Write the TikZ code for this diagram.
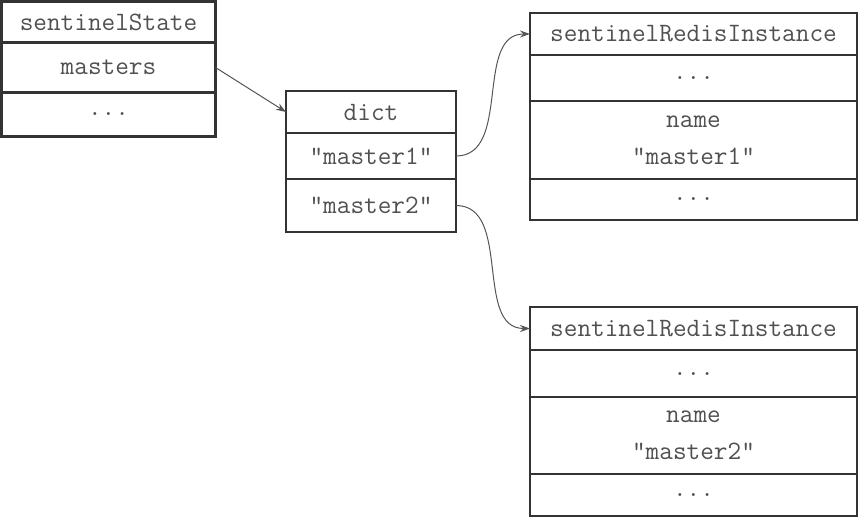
\documentclass[tikz,border=0pt]{standalone}
\usepackage{fontspec}
\usetikzlibrary{arrows.meta, positioning}

\definecolor{boxline}{HTML}{333333}
\definecolor{boxtext}{HTML}{505050}
\definecolor{linkline}{HTML}{555555}

\begin{document}
\begin{tikzpicture}[
  x=1pt, y=1pt,
  >={Stealth[length=10pt, width=7pt]},
  every node/.style={font=\ttfamily\fontsize{26.5}{30}\selectfont, text=boxtext},
  %% ── Cell styles ─────────────────────────────────────────────────────────
  cell/.style={
    draw=boxline, line width=2.8pt, outer sep=0pt, inner sep=0pt,
    align=center, anchor=north
  },
  stcell/.style={cell, minimum width=214pt},
  dictcell/.style={cell, minimum width=170pt},
  ricell/.style={cell, minimum width=327pt},
  %% ── Arrow styles ────────────────────────────────────────────────────────
  link/.style={->, draw=linkline, line width=1pt},
]

\useasboundingbox (0,0) rectangle (859,-519);

%% ═══════════════════════════════════════════════════════════════════════════
%% SENTINEL STATE
%% ═══════════════════════════════════════════════════════════════════════════

\node[stcell, minimum height=41pt] (st-title) at (108.5, -1.5) {sentinelState};
\node[stcell, minimum height=50pt, below=0pt of st-title] (st-masters) {masters};
\node[stcell, minimum height=44pt, below=0pt of st-masters] (st-etc) {...};

%% ═══════════════════════════════════════════════════════════════════════════
%% DICT
%% ═══════════════════════════════════════════════════════════════════════════

\node[dictcell, minimum height=42pt] (dict-title) at (371, -91) {dict};
\node[dictcell, minimum height=46pt, below=0pt of dict-title] (dict-m1) {"master1"};
\node[dictcell, minimum height=53pt, below=0pt of dict-m1] (dict-m2) {"master2"};

%% ═══════════════════════════════════════════════════════════════════════════
%% SENTINEL REDIS INSTANCES
%% ═══════════════════════════════════════════════════════════════════════════

%% — master1 ────────────────────────────────────────────────────────────────
\node[ricell, minimum height=42pt] (ri1-title) at (693.5, -13) {sentinelRedisInstance};
\node[ricell, minimum height=46pt, below=0pt of ri1-title] (ri1-etc) {...};
\node[ricell, minimum height=78pt, below=0pt of ri1-etc] (ri1-name)
  {name\\[7pt]"master1"};
\node[ricell, minimum height=41pt, below=0pt of ri1-name] (ri1-etcb) {...};

%% — master2 ────────────────────────────────────────────────────────────────
\node[ricell, minimum height=43pt] (ri2-title) at (693.5, -307) {sentinelRedisInstance};
\node[ricell, minimum height=47pt, below=0pt of ri2-title] (ri2-etc) {...};
\node[ricell, minimum height=77pt, below=0pt of ri2-etc] (ri2-name)
  {name\\[7pt]"master2"};
\node[ricell, minimum height=42pt, below=0pt of ri2-name] (ri2-etcb) {...};

%% ═══════════════════════════════════════════════════════════════════════════
%% POINTERS
%% ═══════════════════════════════════════════════════════════════════════════

\draw[link] (st-masters.east) -- (dict-title.west);
\draw[link] (dict-m1.east) to[out=0, in=180] (ri1-title.west);
\draw[link] (dict-m2.east) to[out=0, in=180] (ri2-title.west);

\end{tikzpicture}
\end{document}
